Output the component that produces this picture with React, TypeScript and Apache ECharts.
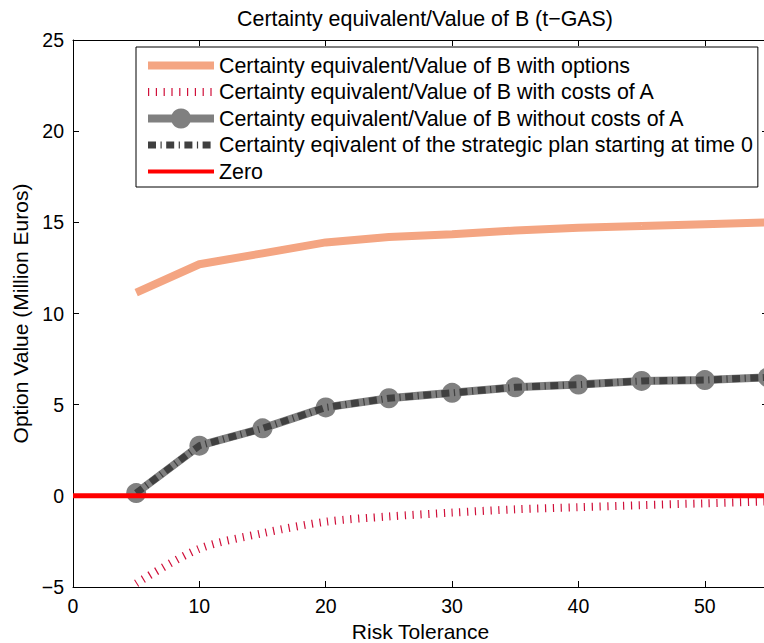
import React, { useEffect, useRef } from "react";
import * as echarts from "echarts";

const riskTolerance = [5, 10, 15, 20, 25, 30, 35, 40, 45, 50, 55];
const withOptions = [11.15, 12.7, 13.3, 13.9, 14.2, 14.35, 14.55, 14.7, 14.8, 14.9, 15.0];
const withCostsOfA = [-4.8, -2.9, -2.05, -1.42, -1.13, -0.92, -0.74, -0.62, -0.51, -0.41, -0.31];
const withoutCostsOfA = [0.15, 2.75, 3.7, 4.85, 5.35, 5.65, 5.95, 6.1, 6.3, 6.35, 6.5];
const strategicPlan = [0.15, 2.75, 3.7, 4.85, 5.35, 5.65, 5.95, 6.1, 6.3, 6.35, 6.5];
const zeroX = [0, 55];
const zeroY = [0, 0];

const seriesNames = [
  "Certainty equivalent/Value of B with options",
  "Certainty equivalent/Value of B with costs of A",
  "Certainty equivalent/Value of B without costs of A",
  "Certainty eqivalent of the strategic plan starting at time 0",
  "Zero",
];

const FONT = "Liberation Sans, Arial, Helvetica, sans-serif";

const pair = (xs: number[], ys: number[]) => xs.map((x, i) => [x, ys[i]]);
const fmt = (v: number) => (v < 0 ? "\u2212" + Math.abs(v) : String(v));

const styles = [
  { color: "#F4A582", width: 8, type: "solid" as any },
  { color: "#D0103A", width: 8, type: [1.2, 6.6] as any },
  { color: "#808080", width: 8, type: "solid" as any },
  { color: "#404040", width: 7, type: [8, 4.5, 1.2, 4.5] as any },
  { color: "#FF0000", width: 5, type: "solid" as any },
];

export default function App() {
  const ref = useRef<HTMLDivElement>(null);
  useEffect(() => {
    if (!ref.current) return;
    const chart = echarts.init(ref.current, undefined, { renderer: "svg" });
    const axisCommon = {
      type: "value" as const,
      axisLine: { show: true, onZero: false, lineStyle: { color: "#000", width: 1 } },
      axisTick: { show: true, inside: true, length: 6, lineStyle: { color: "#000" } },
      splitLine: { show: false },
    };
    const legendData = seriesNames.map((name, i) => ({
      name,
      itemStyle:
        i === 2
          ? { color: "#808080", opacity: 1 }
          : { color: "transparent", opacity: 0, borderWidth: 0 },
      lineStyle: {
        color: styles[i].color,
        width: i === 4 ? 4 : styles[i].width,
        type: styles[i].type,
      },
    }));
    chart.setOption({
      animation: false,
      backgroundColor: "#fff",
      title: {
        text: "Certainty equivalent/Value of B (t\u2212GAS)",
        left: 420,
        textAlign: "center",
        top: 3,
        textStyle: { fontFamily: FONT, fontSize: 21.4, fontWeight: "normal", color: "#000" },
      },
      grid: {
        left: 73,
        top: 40,
        right: 32,
        bottom: 56,
        containLabel: false,
        outerBoundsMode: "none",
      },
      legend: {
        orient: "vertical",
        left: 136,
        top: 47,
        data: legendData,
        itemWidth: 66,
        itemHeight: 25,
        itemGap: 5.5,
        padding: [8, 5, 5, 8],
        backgroundColor: "#fff",
        borderColor: "#000",
        borderWidth: 1,
        borderRadius: 0,
        textStyle: { fontFamily: FONT, fontSize: 21.4, color: "#000" },
      },
      xAxis: [
        {
          ...axisCommon,
          position: "bottom",
          min: 0,
          max: 55,
          interval: 10,
          name: "Risk Tolerance",
          nameLocation: "middle",
          nameGap: 33,
          nameTextStyle: { fontFamily: FONT, fontSize: 21, color: "#000" },
          axisLabel: {
            fontFamily: FONT,
            fontSize: 19.5,
            color: "#000",
            margin: 9,
            showMaxLabel: false,
            formatter: fmt,
          },
        },
        {
          ...axisCommon,
          position: "top",
          min: 0,
          max: 55,
          interval: 10,
          axisLabel: { show: false },
        },
      ],
      yAxis: [
        {
          ...axisCommon,
          position: "left",
          min: -5,
          max: 25,
          interval: 5,
          name: "Option Value (Million Euros)",
          nameLocation: "middle",
          nameGap: 42,
          nameTextStyle: { fontFamily: FONT, fontSize: 21, color: "#000" },
          axisLabel: { fontFamily: FONT, fontSize: 19.5, color: "#000", margin: 9, formatter: fmt },
        },
        {
          ...axisCommon,
          position: "right",
          min: -5,
          max: 25,
          interval: 5,
          axisLabel: { show: false },
        },
      ],
      series: [
        {
          name: seriesNames[0],
          type: "line",
          data: pair(riskTolerance, withOptions),
          symbol: "none",
          lineStyle: styles[0],
          itemStyle: { color: styles[0].color },
          z: 2,
        },
        {
          name: seriesNames[1],
          type: "line",
          data: pair(riskTolerance, withCostsOfA),
          symbol: "none",
          smooth: 0.3,
          lineStyle: styles[1],
          itemStyle: { color: styles[1].color },
          z: 2,
        },
        {
          name: seriesNames[2],
          type: "line",
          data: pair(riskTolerance, withoutCostsOfA),
          symbol: "circle",
          symbolSize: 20,
          lineStyle: styles[2],
          itemStyle: { color: styles[2].color },
          z: 3,
        },
        {
          name: seriesNames[3],
          type: "line",
          data: pair(riskTolerance, strategicPlan),
          symbol: "none",
          lineStyle: styles[3],
          itemStyle: { color: styles[3].color },
          z: 4,
        },
        {
          name: seriesNames[4],
          type: "line",
          data: pair(zeroX, zeroY),
          symbol: "none",
          lineStyle: styles[4],
          itemStyle: { color: styles[4].color },
          z: 5,
        },
      ],
    });
    return () => chart.dispose();
  }, []);
  return (
    <div
      style={{
        position: "fixed",
        left: 0,
        top: 0,
        width: 764,
        height: 643,
        overflow: "hidden",
        background: "#fff",
      }}
    >
      <div ref={ref} style={{ width: 800, height: 643 }} />
    </div>
  );
}
